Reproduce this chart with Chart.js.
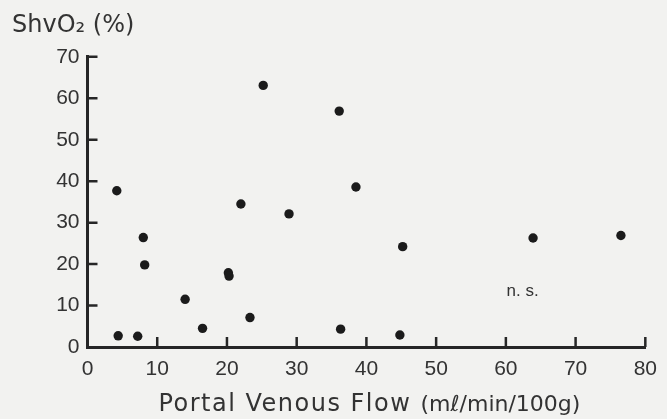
<!DOCTYPE html>
<html>
<head>
<meta charset="utf-8">
<script src="https://cdn.jsdelivr.net/npm/chart.js@4/dist/chart.umd.min.js"></script>
<style>
  html, body { margin: 0; padding: 0; background: #f2f2f0; }
  #wrap { width: 667px; height: 419px; }
</style>
</head>
<body>
<div id="wrap"><canvas id="chart" width="667" height="419"></canvas></div>
<script>
// portal venous flow (ml/min/100g) vs hepatic venous O2 saturation (%)
const flow  = [4.2, 25.2, 36.1, 22.0, 28.9, 38.5, 8.0, 8.2, 20.2, 20.3, 14.0, 16.5, 23.3, 4.4, 7.2, 36.3, 44.8, 45.2, 63.9, 76.5];
const shvo2 = [37.7, 63.1, 56.9, 34.5, 32.1, 38.6, 26.4, 19.8, 17.9, 17.1, 11.5, 4.5, 7.1, 2.7, 2.6, 4.3, 2.9, 24.2, 26.3, 26.9];

const xTicks = [0, 10, 20, 30, 40, 50, 60, 70, 80];
const yTicks = [0, 10, 20, 30, 40, 50, 60, 70];

const yTitle = 'ShvO₂ (%)';
const xTitle = 'Portal Venous Flow';
const xUnit = '(mℓ/min/100g)';
const note = 'n. s.';
const noteAt = { x: 62.4, y: 13.5 };

const ink = '#262626';
const textInk = '#333333';
const tickFont = { family: "'Liberation Sans', sans-serif", size: 21 };

// ticks in the original point inward, and the axis title mixes two sizes,
// so those bits are drawn here
const extras = {
  id: 'extras',
  afterDraw(chart) {
    const { ctx, scales: { x, y }, chartArea } = chart;
    const len = 10;
    ctx.save();
    ctx.strokeStyle = ink;
    ctx.lineWidth = 2.5;
    ctx.beginPath();
    x.ticks.forEach((t, i) => {
      if (i === 0) return;
      const px = x.getPixelForTick(i);
      ctx.moveTo(px, chartArea.bottom);
      ctx.lineTo(px, chartArea.bottom - len);
    });
    y.ticks.forEach((t, i) => {
      if (i === 0) return;
      const py = y.getPixelForTick(i);
      ctx.moveTo(chartArea.left, py);
      ctx.lineTo(chartArea.left + len, py);
    });
    ctx.stroke();

    ctx.fillStyle = textInk;
    ctx.font = "17px 'Liberation Sans', sans-serif";
    ctx.textAlign = 'center';
    ctx.textBaseline = 'middle';
    ctx.fillText(note, x.getPixelForValue(noteAt.x), y.getPixelForValue(noteAt.y));

    // x axis title
    ctx.textAlign = 'left';
    ctx.textBaseline = 'alphabetic';
    ctx.letterSpacing = '1.5px';
    ctx.font = "24px 'DejaVu Sans', sans-serif";
    const w1 = ctx.measureText(xTitle + ' ').width;
    ctx.letterSpacing = '0px';
    ctx.font = "22px 'DejaVu Sans', sans-serif";
    const w2 = ctx.measureText(xUnit).width;
    const x0 = (chartArea.left + chartArea.right) / 2 + 3 - (w1 + w2) / 2;
    const base = chartArea.bottom + 64;
    ctx.fillText(xUnit, x0 + w1, base);
    ctx.letterSpacing = '1.5px';
    ctx.font = "24px 'DejaVu Sans', sans-serif";
    ctx.fillText(xTitle, x0, base);
    ctx.restore();
  }
};

new Chart(document.getElementById('chart'), {
  type: 'scatter',
  data: {
    datasets: [{
      data: flow.map((v, i) => ({ x: v, y: shvo2[i] })),
      backgroundColor: '#1b1b1b',
      borderWidth: 0,
      pointRadius: 4.7,
      pointHoverRadius: 4.7,
    }],
  },
  options: {
    responsive: false,
    animation: false,
    layout: { padding: { left: 12, right: 18, top: 0, bottom: 0 } },
    plugins: {
      legend: { display: false },
      tooltip: { enabled: false },
      title: {
        display: true,
        text: yTitle,
        align: 'start',
        color: textInk,
        font: { family: "'DejaVu Sans', sans-serif", size: 24, weight: 'normal' },
        padding: { top: 11, bottom: 17 },
      },
    },
    scales: {
      x: {
        type: 'linear',
        min: 0,
        max: 80,
        afterBuildTicks: s => { s.ticks = xTicks.map(v => ({ value: v })); },
        afterFit: s => { s.height = 72; },
        grid: { display: false, drawTicks: false },
        border: { display: true, color: ink, width: 3 },
        ticks: { color: textInk, font: tickFont, padding: 10, maxRotation: 0 },
      },
      y: {
        type: 'linear',
        min: 0,
        max: 70,
        afterBuildTicks: s => { s.ticks = yTicks.map(v => ({ value: v })); },
        afterFit: s => { s.width = 75.5; },
        grid: { display: false, drawTicks: false },
        border: { display: true, color: ink, width: 3 },
        ticks: { color: textInk, font: tickFont, padding: 8 },
      },
    },
  },
  plugins: [extras],
});
</script>
</body>
</html>
